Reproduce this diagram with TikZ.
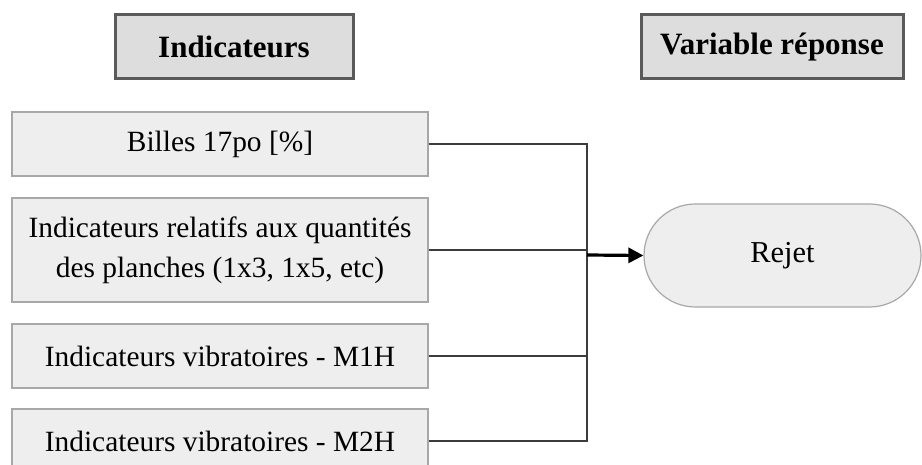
\documentclass[tikz,border=0pt]{standalone}
\usepackage{fontspec}
\setmainfont{Liberation Serif}
\usetikzlibrary{arrows.meta}

\definecolor{boxfill}{HTML}{EEEEEE}
\definecolor{boxline}{HTML}{A8A8A8}
\definecolor{headfill}{HTML}{DDDDDD}
\definecolor{headline}{HTML}{5A5A5A}
\definecolor{linkgray}{HTML}{3C3C3C}

\tikzset{
  indic/.style={draw=boxline, fill=boxfill, line width=0.6pt, inner sep=0pt,
    minimum width=208pt, minimum height=32pt, align=center,
    font=\fontsize{14.7}{20}\selectfont},
  titre/.style={draw=headline, fill=headfill, line width=1.5pt, inner sep=0pt,
    minimum height=32pt, font=\fontsize{15.5}{18}\selectfont\bfseries},
  reponse/.style={draw=boxline, fill=boxfill, line width=0.6pt, inner sep=0pt,
    minimum width=138.5pt, minimum height=51.5pt, rounded corners=25.7pt,
    font=\fontsize{15.2}{18}\selectfont},
  lien/.style={draw=linkgray, line width=0.8pt},
  fleche/.style={draw=black, line width=1.6pt, -{Triangle[length=7.5pt,width=7.5pt]}},
}

\begin{document}
\begin{tikzpicture}[x=0.5pt,y=-0.5pt]
\useasboundingbox (0,0) rectangle (922,465);
% column headers
\node[titre, minimum width=119pt] (hind) at (234,47) {Indicateurs};
\node[titre, minimum width=131pt] (hrep) at (772,47) {Variable réponse};

% indicator boxes
\node[indic] (billes) at (220,144) {Billes 17po [\%]};
\node[indic, minimum height=52pt] (quant) at (220,250) {Indicateurs relatifs aux quantités\\des planches (1x3, 1x5, etc)};
\node[indic] (mih) at (220,356) {Indicateurs vibratoires - M1H};
\node[indic] (mdh) at (220,441) {Indicateurs vibratoires - M2H};

% response
\node[reponse] (rejet) at (782.5,255.5) {Rejet};

% collector line
\coordinate (bus) at (587,255);
\draw[lien] (billes.east) -| (bus) |- (mdh.east);
\draw[lien] (quant.east) -- (quant.east -| bus);
\draw[lien] (mih.east) -- (mih.east -| bus);
\draw[fleche] (bus) -- (rejet.west);
\end{tikzpicture}
\end{document}
